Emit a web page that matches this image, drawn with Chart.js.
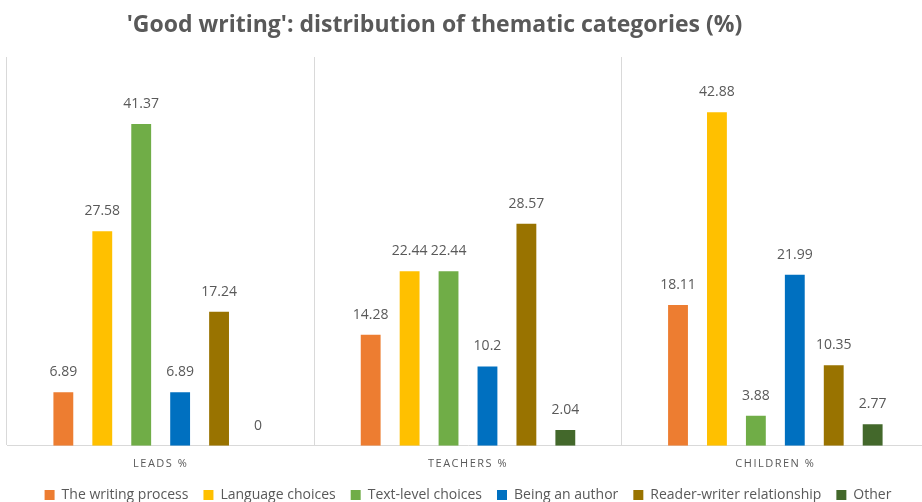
<!DOCTYPE html>
<html>
<head>
<meta charset="utf-8">
<script src="https://cdn.jsdelivr.net/npm/chart.js@4/dist/chart.umd.min.js"></script>
<style>
  html, body { margin: 0; padding: 0; background: #fff; overflow: hidden; }
  #wrap { position: relative; width: 922px; height: 502px; overflow: hidden; }
  #title { position: absolute; top: 7px; left: 0; width: 869px; text-align: center;
           font-family: "Open Sans", sans-serif; font-weight: bold;
           font-size: 23px; color: #595959; white-space: nowrap; }
  canvas { position: absolute; left: 0; top: 0; }
</style>
</head>
<body>
<div id="wrap">
  <canvas id="c" width="932" height="502"></canvas>
  <div id="title">'Good writing': distribution of thematic categories (%)</div>
</div>
<script>
const categories = ["LEADS %", "TEACHERS %", "CHILDREN %"];
const seriesNames = ["The writing process", "Language choices", "Text-level choices", "Being an author", "Reader-writer relationship", "Other"];
const writingProcess = [6.89, 14.28, 18.11];
const languageChoices = [27.58, 22.44, 42.88];
const textLevelChoices = [41.37, 22.44, 3.88];
const beingAnAuthor = [6.89, 10.2, 21.99];
const readerWriter = [17.24, 28.57, 10.35];
const other = [0, 2.04, 2.77];
const seriesColors = ["#ED7D31", "#FFC000", "#70AD47", "#0070C0", "#997300", "#43682B"];

const seriesValues = [writingProcess, languageChoices, textLevelChoices, beingAnAuthor, readerWriter, other];

const valueLabels = {
  id: 'valueLabels',
  afterDatasetsDraw(chart) {
    const ctx = chart.ctx;
    ctx.save();
    ctx.font = '14px "Open Sans", sans-serif';
    ctx.fillStyle = '#595959';
    ctx.textAlign = 'center';
    ctx.textBaseline = 'bottom';
    chart.data.datasets.forEach((ds, i) => {
      const meta = chart.getDatasetMeta(i);
      meta.data.forEach((bar, j) => {
        ctx.fillText(String(ds.data[j]), bar.x, bar.y - 13);
      });
    });
    ctx.restore();
  }
};

const layoutTweaks = {
  id: 'layoutTweaks',
  afterInit(chart) {
    const lg = chart.legend;
    if (lg && !lg._tweaked) {
      const proto = Object.getPrototypeOf(lg);
      lg.fit = function () { proto.fit.call(this); this.height -= 10; };
      lg._tweaked = true;
    }
  },
  afterUpdate(chart) {
    const s = chart.scales.x;
    if (s && !s._spaced) {
      const orig = s.drawLabels;
      s.drawLabels = function (area) {
        const ctx = this.ctx;
        ctx.save();
        ctx.letterSpacing = '1.5px';
        orig.call(this, area);
        ctx.restore();
      };
      s._spaced = true;
    }
  }
};

new Chart(document.getElementById('c'), {
  type: 'bar',
  data: {
    labels: categories,
    datasets: seriesNames.map((name, i) => ({
      label: name,
      data: seriesValues[i],
      backgroundColor: seriesColors[i],
      borderWidth: 0,
      categoryPercentage: 0.76,
      barPercentage: 0.51
    }))
  },
  options: {
    responsive: false,
    animation: false,
    layout: { padding: { left: 7, right: 3, top: 57, bottom: 0 } },
    scales: {
      x: {
        grid: { display: true, offset: true, color: '#D9D9D9', drawTicks: false, lineWidth: 1 },
        border: { display: true, color: '#D9D9D9' },
        ticks: { color: '#595959', padding: 11, font: { family: '"Open Sans", sans-serif', size: 11 } },
        afterFit: (scale) => { scale.height -= 8; }
      },
      y: {
        display: false,
        min: 0, max: 50
      }
    },
    plugins: {
      legend: {
        position: 'bottom',
        labels: {
          boxWidth: 10, boxHeight: 10, padding: 15, color: '#595959',
          font: { family: '"Open Sans", sans-serif', size: 14 }
        }
      },
      tooltip: { enabled: false },
      title: { display: false }
    }
  },
  plugins: [valueLabels, layoutTweaks]
});
</script>
</body>
</html>
